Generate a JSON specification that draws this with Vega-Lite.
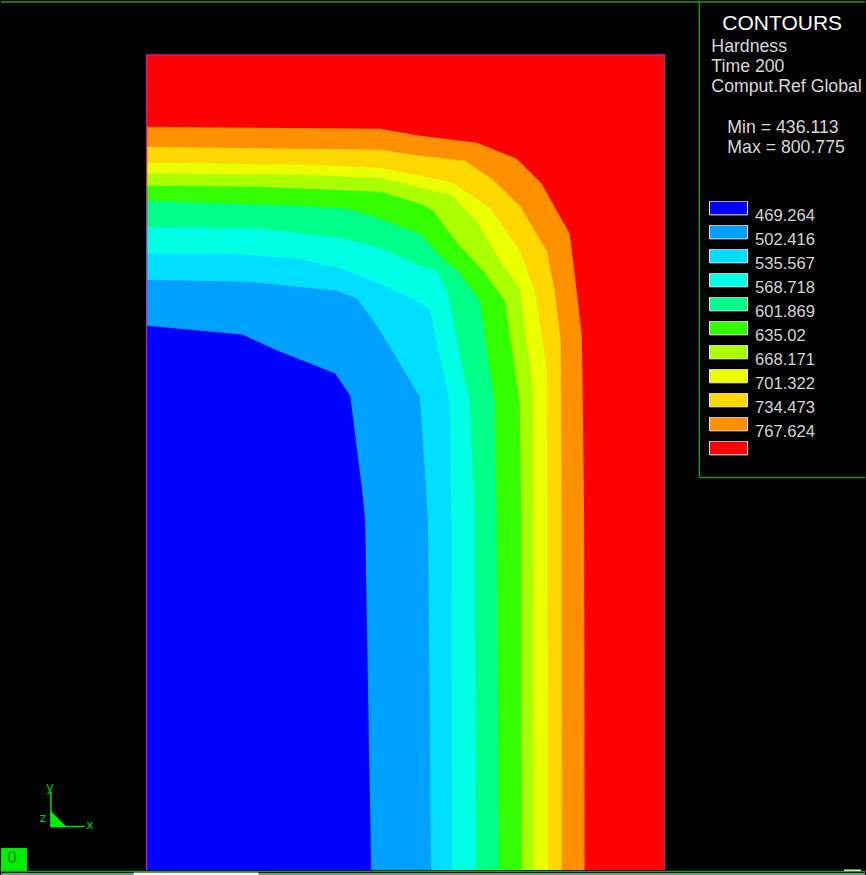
{"$schema":"https://vega.github.io/schema/vega-lite/v6.json","width":866,"height":875,"padding":0,"autosize":{"type":"fit","contains":"padding"},"background":"#000000","view":{"stroke":null},
"config":{"font":"Liberation Sans"},
"datasets":{"contours":[
{"level":"800.775","x":146,"y":54},{"level":"800.775","x":665,"y":54},
{"level":"767.624","x":146,"y":126},{"level":"767.624","x":380,"y":128},{"level":"767.624","x":420,"y":135},{"level":"767.624","x":477,"y":142},{"level":"767.624","x":517,"y":158},{"level":"767.624","x":542,"y":183},{"level":"767.624","x":570,"y":233},{"level":"767.624","x":577,"y":290},{"level":"767.624","x":582,"y":333},{"level":"767.624","x":583,"y":387},{"level":"767.624","x":584.5,"y":520},{"level":"767.624","x":585,"y":870},
{"level":"734.473","x":146,"y":146},{"level":"734.473","x":380,"y":149},{"level":"734.473","x":420,"y":155},{"level":"734.473","x":465,"y":160},{"level":"734.473","x":492,"y":178},{"level":"734.473","x":520,"y":205},{"level":"734.473","x":547,"y":250},{"level":"734.473","x":555,"y":290},{"level":"734.473","x":561,"y":340},{"level":"734.473","x":561.5,"y":403},{"level":"734.473","x":561.8,"y":520},{"level":"734.473","x":562,"y":870},
{"level":"701.322","x":146,"y":162},{"level":"701.322","x":300,"y":164},{"level":"701.322","x":380,"y":167},{"level":"701.322","x":420,"y":175},{"level":"701.322","x":453,"y":182},{"level":"701.322","x":490,"y":207},{"level":"701.322","x":520,"y":250},{"level":"701.322","x":535,"y":290},{"level":"701.322","x":547,"y":367},{"level":"701.322","x":547.5,"y":520},{"level":"701.322","x":548,"y":870},
{"level":"668.171","x":146,"y":173},{"level":"668.171","x":300,"y":174},{"level":"668.171","x":380,"y":177},{"level":"668.171","x":420,"y":187},{"level":"668.171","x":452,"y":195},{"level":"668.171","x":478,"y":223},{"level":"668.171","x":502,"y":263},{"level":"668.171","x":520,"y":288},{"level":"668.171","x":533,"y":387},{"level":"668.171","x":533.5,"y":520},{"level":"668.171","x":534,"y":870},
{"level":"635.02","x":146,"y":185},{"level":"635.02","x":255,"y":186},{"level":"635.02","x":380,"y":191},{"level":"635.02","x":420,"y":203},{"level":"635.02","x":433,"y":210},{"level":"635.02","x":458,"y":243},{"level":"635.02","x":483,"y":270},{"level":"635.02","x":505,"y":300},{"level":"635.02","x":520,"y":403},{"level":"635.02","x":521.5,"y":520},{"level":"635.02","x":522,"y":870},
{"level":"601.869","x":146,"y":200},{"level":"601.869","x":297,"y":205},{"level":"601.869","x":347,"y":208},{"level":"601.869","x":380,"y":218},{"level":"601.869","x":420,"y":233},{"level":"601.869","x":445,"y":260},{"level":"601.869","x":458,"y":270},{"level":"601.869","x":480,"y":300},{"level":"601.869","x":495,"y":403},{"level":"601.869","x":497,"y":520},{"level":"601.869","x":499,"y":870},
{"level":"568.718","x":146,"y":226},{"level":"568.718","x":255,"y":227},{"level":"568.718","x":297,"y":232},{"level":"568.718","x":340,"y":237},{"level":"568.718","x":380,"y":247},{"level":"568.718","x":420,"y":265},{"level":"568.718","x":437,"y":270},{"level":"568.718","x":448,"y":293},{"level":"568.718","x":470,"y":403},{"level":"568.718","x":475,"y":520},{"level":"568.718","x":476,"y":870},
{"level":"535.567","x":146,"y":253},{"level":"535.567","x":230,"y":253},{"level":"535.567","x":297,"y":258},{"level":"535.567","x":338,"y":267},{"level":"535.567","x":380,"y":283},{"level":"535.567","x":410,"y":297},{"level":"535.567","x":430,"y":308},{"level":"535.567","x":438,"y":347},{"level":"535.567","x":450,"y":403},{"level":"535.567","x":451.5,"y":520},{"level":"535.567","x":452,"y":870},
{"level":"502.416","x":146,"y":279},{"level":"502.416","x":247,"y":281},{"level":"502.416","x":297,"y":286},{"level":"502.416","x":337,"y":290},{"level":"502.416","x":357,"y":298},{"level":"502.416","x":380,"y":330},{"level":"502.416","x":420,"y":397},{"level":"502.416","x":428,"y":520},{"level":"502.416","x":431,"y":870},
{"level":"469.264","x":146,"y":325},{"level":"469.264","x":242,"y":334},{"level":"469.264","x":277,"y":350},{"level":"469.264","x":335,"y":373},{"level":"469.264","x":350,"y":395},{"level":"469.264","x":362,"y":490},{"level":"469.264","x":365,"y":520},{"level":"469.264","x":371,"y":870}
]},
"encoding":{"x":{"field":"x","type":"quantitative","scale":{"domain":[0,866],"nice":false,"zero":false},"axis":null},"y":{"field":"y","type":"quantitative","scale":{"domain":[875,0],"nice":false,"zero":false},"axis":null}},
"layer":[
{"data":{"name":"contours"},"mark":{"type":"area","opacity":1,"interpolate":"linear"},
"encoding":{"y2":{"datum":870},
"color":{"field":"level","type":"nominal","sort":null,"scale":{"domain":["469.264","502.416","535.567","568.718","601.869","635.02","668.171","701.322","734.473","767.624","800.775"],"range":["#0000ff","#00a0ff","#00deff","#00ffe4","#00ff88","#33ff00","#aaff00","#eaff00","#ffd800","#ff9000","#ff0000"]},
"legend":{"title":null,"orient":"none","legendX":708,"legendY":200,"symbolType":"M-1,-0.36H1V0.36H-1Z","symbolSize":1444,"symbolOpacity":1,"symbolStrokeColor":"#e6e6e6","symbolStrokeWidth":1,"labelColor":"#d4d4d4","labelFont":"Liberation Sans","labelFontSize":16.6,"labelBaseline":"top","labelOffset":7,"rowPadding":0,"labelLimit":100,"clipHeight":14,"values":["469.264","502.416","535.567","568.718","601.869","635.02","668.171","701.322","734.473","767.624","800.775"],"labelExpr":"datum.label === '800.775' ? '' : datum.label"}}}},
{"data":{"values":[{"x":146,"y":870,"i":0},{"x":146,"y":54,"i":1},{"x":665,"y":54,"i":2},{"x":665,"y":870,"i":3}]},"mark":{"type":"line","stroke":"#c4209c","strokeWidth":1.2},"encoding":{"order":{"field":"i","type":"quantitative"}}},
{"data":{"values":[{"x":0,"x2":866,"y":873,"y2":875,"c":"#7d9296"},{"x":133,"x2":258,"y":872.5,"y2":875,"c":"#ffffff"},{"x":845,"x2":862,"y":869.5,"y2":871,"c":"#ffffff"},{"x":0,"x2":26,"y":848,"y2":872,"c":"#00ee00"}]},"mark":{"type":"rect"},"encoding":{"x2":{"field":"x2"},"y2":{"field":"y2"},"color":{"field":"c","type":"nominal","scale":null,"legend":null}}},
{"data":{"values":[{"x":0,"x2":866,"y":1,"y2":1},{"x":700,"x2":700,"y":0,"y2":477},{"x":700,"x2":866,"y":477,"y2":477},{"x":0,"x2":866,"y":871.5,"y2":871.5}]},"mark":{"type":"rule","stroke":"#1f9a1f","strokeWidth":1.5},"encoding":{"x2":{"field":"x2"},"y2":{"field":"y2"}}},
{"data":{"values":[{"x":50,"x2":50,"y":792,"y2":827},{"x":50,"x2":84,"y":826.5,"y2":826.5}]},"mark":{"type":"rule","stroke":"#00e000","strokeWidth":1.5},"encoding":{"x2":{"field":"x2"},"y2":{"field":"y2"}}},
{"data":{"values":[{"x":50,"y":811},{"x":66,"y":827}]},"mark":{"type":"area","fill":"#00ee00"},"encoding":{"y2":{"datum":827}}},
{"data":{"values":[{"x":723,"y":29.5,"t":"CONTOURS"}]},"mark":{"type":"text","align":"left","baseline":"alphabetic","fontSize":21,"fill":"#ffffff","font":"Liberation Sans"},"encoding":{"text":{"field":"t"}}},
{"data":{"values":[{"x":712,"y":51.5,"t":"Hardness"},{"x":712,"y":71.5,"t":"Time 200"},{"x":712,"y":91.5,"t":"Comput.Ref Global"},{"x":728,"y":132,"t":"Min = 436.113"},{"x":728,"y":152,"t":"Max =  800.775"}]},"mark":{"type":"text","align":"left","baseline":"alphabetic","fontSize":17.7,"fill":"#d8d8d8","font":"Liberation Sans"},"encoding":{"text":{"field":"t"}}},
{"data":{"values":[{"x":49,"y":791,"t":"y"},{"x":42,"y":822,"t":"z"},{"x":89,"y":829,"t":"x"}]},"mark":{"type":"text","align":"center","baseline":"alphabetic","fontSize":13,"fill":"#00c800","font":"DejaVu Sans"},"encoding":{"text":{"field":"t"}}},
{"data":{"values":[{"x":11,"y":863,"t":"0"}]},"mark":{"type":"text","align":"center","baseline":"alphabetic","fontSize":16,"fill":"#008a00","font":"Liberation Sans"},"encoding":{"text":{"field":"t"}}}
]}
